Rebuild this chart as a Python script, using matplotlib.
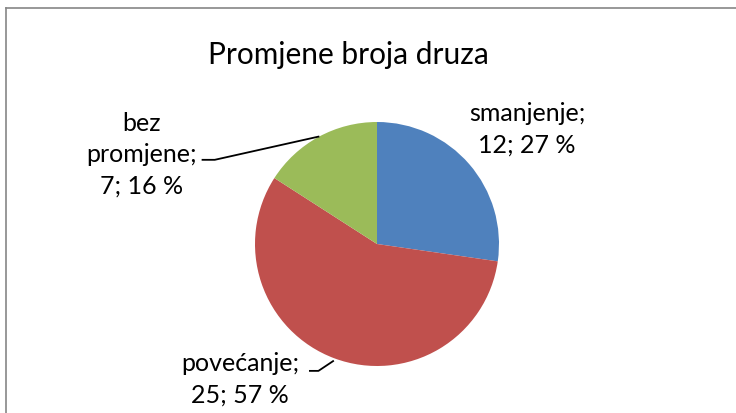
import matplotlib
matplotlib.use("Agg")
import matplotlib.pyplot as plt
from matplotlib.lines import Line2D

# podaci
kategorije = ["smanjenje", "povećanje", "bez promjene"]
vrijednosti = [12, 25, 7]
postoci = [27, 57, 16]
boje = ["#4F81BD", "#C0504D", "#9BBB59"]

plt.rcParams['font.family'] = ['Lato', 'DejaVu Sans']

fig = plt.figure(figsize=(7.36, 4.14), dpi=100)
W, H = 736, 414

# okvir (samo gornja i lijeva crta su vidljive)
fig.add_artist(Line2D([6 / W, 1], [1 - 9 / H, 1 - 9 / H], color="#868686", lw=1.2))
fig.add_artist(Line2D([6 / W, 6 / W], [0, 1 - 9 / H], color="#868686", lw=1.2))

# pie os
cx, cy, r = 377, 245, 122
ax = fig.add_axes([(cx - r) / W, (H - cy - r) / H, 2 * r / W, 2 * r / H])
ax.pie(vrijednosti, colors=boje, startangle=90, counterclock=False,
       wedgeprops=dict(linewidth=0))
ax.set_xlim(-1, 1)
ax.set_ylim(-1, 1)
ax.set_aspect("equal")
ax.axis("off")

fig.text(348 / W, 1 - 55 / H, "Promjene broja druza", ha="center", va="center",
         fontsize=21.5, color="black")

fs = 18
ls = 1.42
ax.text(1.23, 0.95, f"{kategorije[0]};\n{vrijednosti[0]}; {postoci[0]} %",
        ha="center", va="center", fontsize=fs, linespacing=ls, clip_on=False)
ax.text(-1.93, 0.74, "bez\npromjene;\n" + f"{vrijednosti[2]}; {postoci[2]} %",
        ha="center", va="center", fontsize=fs, linespacing=ls, clip_on=False)
ax.text(-1.12, -1.10, f"{kategorije[1]};\n{vrijednosti[1]}; {postoci[1]} %",
        ha="center", va="center", fontsize=fs, linespacing=ls, clip_on=False)

# linije do oznaka
ax.plot([-1.43, -1.33, -0.48], [0.69, 0.69, 0.88], color="black", lw=1.3, clip_on=False)
ax.plot([-0.55, -0.48, -0.36], [-1.04, -1.04, -0.96], color="black", lw=1.3, clip_on=False)

fig.savefig("out.png", dpi=100)
